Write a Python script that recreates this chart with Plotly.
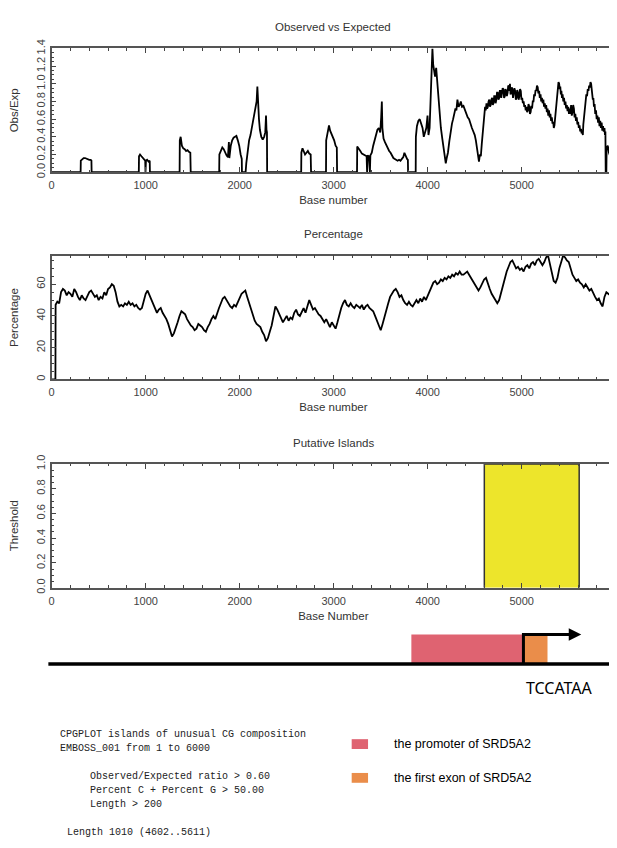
import plotly.graph_objects as go

# page is drawn with an 8px body margin, so the figure is sized to fill the rest
OFF = 8
PAGE_W, PAGE_H = 617, 848
W, H = PAGE_W - OFF, PAGE_H - OFF

# ---------------- data ----------------
seq_len = 6000
x_ticks = [0, 1000, 2000, 3000, 4000, 5000]

oe_pos = [0, 308, 310, 325, 340, 355, 370, 385, 400, 415, 423, 425,
          927, 929, 940, 955, 970, 985, 995, 998, 1003, 1015, 1030, 1043, 1045,
          1361, 1363, 1372, 1385, 1400, 1415, 1430, 1445, 1460, 1475, 1479,
          1782, 1784, 1800, 1815, 1830, 1845, 1860, 1875, 1885, 1890, 1905, 1920, 1935, 1950, 1965, 1980, 1995, 2010, 2022, 2024,
          2063, 2070, 2085, 2100, 2115, 2130, 2145, 2160, 2170, 2180, 2188, 2195, 2205, 2215, 2230, 2245, 2260, 2272, 2280, 2285, 2290, 2292,
          2654, 2656, 2668, 2680, 2695, 2710, 2725, 2740, 2755, 2759,
          2918, 2920, 2935, 2950, 2962, 2975, 2990, 3005, 3020, 3033, 3036,
          3248, 3250, 3265, 3283, 3300, 3315, 3330, 3350, 3355, 3360, 3375, 3385, 3390, 3405, 3420, 3435, 3450, 3465, 3480, 3495,
          3505, 3512, 3518, 3530, 3545, 3560, 3575, 3590, 3605, 3620, 3635, 3650, 3665, 3680, 3695, 3710, 3725, 3740, 3752, 3765, 3780, 3789, 3791,
          3872, 3874, 3885, 3900, 3915, 3930, 3945, 3958, 3970, 3985, 3998, 4008, 4020, 4032, 4042, 4050, 4058, 4068, 4078, 4090,
          4100, 4112, 4125, 4140, 4155, 4170, 4182, 4192, 4202, 4215, 4230, 4245, 4258, 4270, 4282, 4295, 4305, 4316, 4328, 4340,
          4352, 4365, 4380, 4395, 4410, 4425, 4440, 4455, 4470, 4485, 4500, 4512, 4525, 4535, 4545, 4555, 4565, 4575, 4585,
          4597, 4604, 4610, 4617, 4625, 4632, 4640, 4647, 4655, 4662, 4670, 4677, 4685, 4692, 4700, 4707, 4715, 4722, 4730, 4737,
          4745, 4752, 4760, 4767, 4775, 4782, 4790, 4797, 4805, 4812, 4820, 4827, 4835, 4842, 4850, 4856, 4862, 4868, 4875, 4881,
          4888, 4894, 4900, 4907, 4915, 4922, 4930, 4937, 4945, 4952, 4960, 4967, 4975, 4982, 4990, 4997, 5005, 5012, 5020, 5027,
          5035, 5042, 5050, 5057, 5065, 5072, 5080, 5087, 5095, 5102, 5110, 5117, 5125, 5132, 5140, 5147, 5155, 5162, 5170, 5177,
          5185, 5192, 5200, 5207, 5215, 5222, 5230, 5237, 5245, 5252, 5260, 5267, 5275, 5282, 5290, 5297, 5305, 5312, 5320, 5327,
          5335, 5341, 5348, 5354, 5360, 5366, 5372, 5378, 5385, 5391, 5398, 5404, 5410, 5416, 5422, 5428, 5435, 5442, 5450, 5457,
          5465, 5472, 5480, 5487, 5495, 5502, 5510, 5517, 5525, 5532, 5540, 5547, 5555, 5562, 5570, 5577, 5585, 5592, 5600, 5607,
          5615, 5622, 5630, 5637, 5645, 5650, 5655, 5662, 5668, 5674, 5680, 5687, 5695, 5702, 5710, 5717, 5725, 5731, 5738, 5744,
          5750, 5756, 5762, 5768, 5775, 5782, 5790, 5797, 5805, 5812, 5820, 5827, 5835, 5842, 5850, 5857, 5865, 5872, 5880, 5885,
          5890, 5893, 5900, 5903, 5915, 5928, 5940, 5947, 5949, 5992]
oe_val = [0, 0, 0.13, 0.15, 0.16, 0.16, 0.15, 0.15, 0.14, 0.14, 0.13, 0,
          0, 0.18, 0.20, 0.18, 0.16, 0.15, 0.13, 0, 0.13, 0.14, 0.12, 0.13, 0,
          0, 0.36, 0.40, 0.30, 0.27, 0.26, 0.24, 0.25, 0.23, 0.22, 0,
          0, 0.20, 0.25, 0.28, 0.26, 0.22, 0.19, 0.17, 0.34, 0.16, 0.30, 0.36, 0.39, 0.40, 0.41, 0.36, 0.30, 0.20, 0.15, 0,
          0, 0.10, 0.25, 0.36, 0.42, 0.50, 0.60, 0.65, 0.72, 0.80, 0.97, 0.75, 0.60, 0.48, 0.40, 0.37, 0.40, 0.45, 0.64, 0.48, 0.45, 0,
          0, 0.22, 0.27, 0.24, 0.20, 0.22, 0.24, 0.21, 0.20, 0,
          0, 0.36, 0.45, 0.53, 0.47, 0.44, 0.40, 0.36, 0.30, 0.28, 0,
          0, 0.29, 0.26, 0.24, 0.21, 0.20, 0.19, 0.18, 0, 0.19, 0.18, 0, 0.19, 0.22, 0.30, 0.36, 0.42, 0.48, 0.50, 0.45,
          0.62, 0.80, 0.50, 0.38, 0.34, 0.30, 0.26, 0.24, 0.22, 0.19, 0.16, 0.15, 0.14, 0.13, 0.14, 0.13, 0.15, 0.17, 0.22, 0.18, 0.15, 0.14, 0,
          0, 0.40, 0.52, 0.58, 0.60, 0.55, 0.50, 0.40, 0.44, 0.50, 0.64, 0.42, 0.50, 0.90, 1.20, 1.40, 1.22, 1.12, 1.08, 1.18,
          1.02, 0.88, 0.68, 0.50, 0.38, 0.26, 0.18, 0.10, 0.16, 0.22, 0.35, 0.48, 0.55, 0.60, 0.66, 0.72, 0.70, 0.82, 0.74, 0.76,
          0.80, 0.74, 0.75, 0.70, 0.66, 0.62, 0.60, 0.54, 0.50, 0.46, 0.42, 0.36, 0.28, 0.20, 0.12, 0.20, 0.18, 0.32, 0.45,
          0.62, 0.70, 0.74, 0.70, 0.78, 0.72, 0.74, 0.80, 0.82, 0.74, 0.76, 0.82, 0.84, 0.76, 0.78, 0.86, 0.86, 0.78, 0.82, 0.90,
          0.90, 0.82, 0.84, 0.92, 0.92, 0.84, 0.88, 0.95, 0.94, 0.84, 0.86, 0.94, 0.92, 0.86, 0.90, 0.98, 0.97, 0.92, 1.00, 0.88,
          0.90, 0.96, 0.94, 0.84, 0.88, 0.95, 0.92, 0.82, 0.84, 0.93, 0.90, 0.82, 0.86, 0.94, 0.92, 0.82, 0.84, 0.78, 0.80, 0.74,
          0.76, 0.70, 0.74, 0.68, 0.70, 0.77, 0.74, 0.66, 0.68, 0.75, 0.72, 0.80, 0.80, 0.88, 0.86, 0.93, 0.92, 0.98, 0.96, 0.89,
          0.92, 0.84, 0.88, 0.80, 0.84, 0.78, 0.82, 0.74, 0.78, 0.72, 0.76, 0.68, 0.72, 0.64, 0.70, 0.62, 0.66, 0.58, 0.62, 0.55,
          0.57, 0.50, 0.53, 0.60, 0.64, 0.74, 0.80, 0.88, 0.93, 1.02, 1.00, 0.94, 0.97, 0.88, 0.92, 0.84, 0.88, 0.80, 0.84, 0.76,
          0.80, 0.72, 0.76, 0.69, 0.74, 0.66, 0.72, 0.66, 0.76, 0.64, 0.68, 0.76, 0.72, 0.62, 0.66, 0.58, 0.62, 0.54, 0.57, 0.50,
          0.53, 0.46, 0.49, 0.44, 0.46, 0.42, 0.54, 0.60, 0.67, 0.74, 0.78, 0.88, 0.86, 0.94, 0.92, 0.98, 0.96, 1.02, 1.00, 0.90,
          0.92, 0.82, 0.84, 0.74, 0.77, 0.66, 0.70, 0.60, 0.64, 0.56, 0.62, 0.52, 0.58, 0.50, 0.56, 0.47, 0.52, 0.46, 0.50, 0.42,
          0.46, 0, 0, 0.28, 0.30, 0.22, 0.18, 0.16, 0, 0]

pct_pos = [0, 40, 42, 60, 80, 100, 120, 140, 160, 180, 200, 220, 240, 260, 280, 300, 320, 340, 360, 380,
           400, 420, 440, 460, 480, 500, 520, 540, 560, 580, 600, 620, 640, 660, 680, 700, 720, 740, 760, 780,
           800, 820, 840, 860, 880, 900, 920, 940, 960, 980, 1000, 1020, 1040, 1060, 1080, 1100, 1120, 1140, 1160, 1180,
           1200, 1220, 1240, 1260, 1280, 1300, 1320, 1340, 1360, 1380, 1400, 1420, 1440, 1460, 1480, 1500, 1520, 1540, 1560, 1580,
           1600, 1620, 1640, 1660, 1680, 1700, 1720, 1740, 1760, 1780, 1800, 1820, 1840, 1860, 1880, 1900, 1920, 1940, 1960, 1980,
           2000, 2020, 2040, 2060, 2080, 2100, 2120, 2140, 2160, 2180, 2200, 2220, 2240, 2260, 2280, 2300, 2320, 2340, 2360, 2380,
           2400, 2420, 2440, 2460, 2480, 2500, 2520, 2540, 2560, 2580, 2600, 2620, 2640, 2660, 2680, 2700, 2720, 2740, 2760, 2780,
           2800, 2820, 2840, 2860, 2880, 2900, 2920, 2940, 2960, 2980, 3000, 3020, 3040, 3060, 3080, 3100, 3120, 3140, 3160, 3180,
           3200, 3220, 3240, 3260, 3280, 3300, 3320, 3340, 3360, 3380, 3400, 3420, 3440, 3460, 3480, 3500, 3520, 3540, 3560, 3580,
           3600, 3620, 3640, 3660, 3680, 3700, 3720, 3740, 3760, 3780, 3800, 3820, 3840, 3860, 3880, 3900, 3920, 3940, 3960, 3980,
           4000, 4020, 4040, 4060, 4080, 4100, 4120, 4140, 4160, 4180, 4200, 4220, 4240, 4260, 4280, 4300, 4320, 4340, 4360, 4380,
           4400, 4420, 4440, 4460, 4480, 4500, 4520, 4540, 4560, 4580, 4600, 4620, 4640, 4660, 4680, 4700, 4720, 4740, 4760, 4780,
           4800, 4820, 4840, 4860, 4880, 4900, 4920, 4940, 4960, 4980, 5000, 5020, 5040, 5060, 5080, 5100, 5120, 5140, 5160, 5180,
           5200, 5220, 5240, 5260, 5280, 5300, 5320, 5340, 5360, 5380, 5400, 5420, 5440, 5460, 5480, 5500, 5520, 5540, 5560, 5580,
           5600, 5620, 5640, 5660, 5680, 5700, 5720, 5740, 5760, 5780, 5800, 5820, 5840, 5860, 5880, 5900, 5920, 5940, 5955, 5992]
pct_val = [0, 0, 47, 49, 48, 55, 57, 56, 53, 55, 54, 52, 57, 55, 52, 50, 53, 51, 50, 53,
           55, 56, 54, 52, 53, 50, 52, 51, 55, 53, 57, 58, 60, 59, 55, 49, 46, 47, 46, 48,
           47, 49, 47, 48, 46, 47, 45, 44, 45, 50, 54, 56, 53, 50, 47, 44, 42, 44, 45, 42,
           40, 38, 35, 30, 27, 29, 32, 36, 40, 43, 42, 41, 38, 36, 34, 33, 31, 32, 35, 34,
           33, 31, 30, 33, 35, 38, 40, 38, 42, 45, 48, 51, 52, 50, 48, 46, 45, 47, 46, 49,
           52, 54, 55, 56, 52, 48, 44, 40, 37, 35, 34, 33, 30, 28, 24, 26, 30, 34, 40, 46,
           44, 41, 39, 36, 38, 40, 37, 39, 38, 42, 44, 41, 40, 43, 45, 42, 47, 50, 47, 44,
           45, 43, 41, 40, 38, 36, 38, 35, 33, 36, 34, 32, 36, 41, 45, 48, 50, 47, 46, 48,
           46, 45, 47, 46, 45, 47, 44, 46, 47, 45, 44, 43, 40, 37, 33, 31, 35, 40, 44, 48,
           52, 54, 56, 57, 55, 52, 53, 50, 48, 47, 49, 47, 46, 48, 50, 48, 51, 49, 52, 50,
           53, 55, 58, 61, 62, 60, 61, 63, 62, 64, 63, 65, 64, 66, 65, 67, 66, 68, 66, 66,
           67, 68, 66, 64, 62, 60, 58, 56, 58, 61, 63, 64, 60, 57, 54, 52, 50, 48, 50, 55,
           60, 64, 68, 71, 74, 75, 72, 70, 71, 69, 70, 68, 71, 72, 70, 73, 74, 72, 75, 76,
           74, 72, 74, 77, 78, 73, 67, 62, 61, 64, 70, 75, 78, 77, 75, 74, 70, 66, 64, 62,
           63, 61, 60, 58, 60, 58, 56, 57, 54, 52, 50, 51, 48, 46, 52, 55, 54, 53, 0, 0]

island_start = 4602
island_end = 5611
island_threshold = 1.0

promoter = [3826, 5018]        # promoter of SRD5A2 (base positions)
exon = [5018, 5274]            # first exon of SRD5A2
tss = 5018                     # transcription start
arrow_end = 5633
gene_line = [-35, seq_len]
tss_seq = "TCCATAA"

info_lines = ["CPGPLOT islands of unusual CG composition",
              "EMBOSS_001 from 1 to 6000",
              "Observed/Expected ratio > 0.60",
              "Percent C + Percent G > 50.00",
              "Length > 200",
              "Length 1010 (4602..5611)"]
legend_labels = ["the promoter of SRD5A2", "the first exon of SRD5A2"]
legend_colors = ["#DF6371", "#EA8D4A"]

# ---------------- layout helpers (page pixel -> paper) ----------------
def px(x):
    return (x - OFF) / W

def py(y):
    return 1 - (y - OFF) / H

L = 49                      # page x of the axis origin
XMAX = 5992
scale = (PAGE_W - L) / XMAX
X4_LO = -(L - OFF) / scale

panels = [(40, 166), (251, 377), (463, 589)]
axis_font = dict(family="Liberation Sans", size=11, color="#444")
title_font = dict(family="Liberation Sans", size=11.5, color="#333")

fig = go.Figure()

fig.add_trace(go.Scatter(x=oe_pos, y=oe_val, mode="lines",
                         line=dict(color="black", width=1.8),
                         xaxis="x", yaxis="y", hoverinfo="skip"))
fig.add_trace(go.Scatter(x=pct_pos, y=pct_val, mode="lines",
                         line=dict(color="black", width=1.8),
                         xaxis="x2", yaxis="y2", hoverinfo="skip"))
fig.add_trace(go.Scatter(x=[island_start, island_start, island_end, island_end],
                         y=[0, island_threshold, island_threshold, 0],
                         mode="lines", fill="toself", fillcolor="#EDE52B",
                         line=dict(color="#333", width=1.5),
                         xaxis="x3", yaxis="y3", hoverinfo="skip"))

# gene diagram
track_base, track_top = 0.476, 0.904
fig.add_trace(go.Scatter(x=gene_line, y=[track_base, track_base], mode="lines",
                         line=dict(color="black", width=3.5),
                         xaxis="x4", yaxis="y4", hoverinfo="skip"))
fig.add_trace(go.Scatter(x=[tss, tss, arrow_end - 40], y=[track_base, track_top, track_top],
                         mode="lines", line=dict(color="black", width=3),
                         xaxis="x4", yaxis="y4", hoverinfo="skip"))

shapes = []
for (a, b), c in zip([promoter, exon], legend_colors):
    shapes.append(dict(type="rect", xref="x4", yref="y4", x0=a, x1=b,
                       y0=track_base, y1=track_top, fillcolor=c,
                       line=dict(width=0), layer="below"))
for i, c in enumerate(legend_colors):
    yc = [748.3, 782.7][i]
    shapes.append(dict(type="rect", xref="paper", yref="paper",
                       x0=px(351.5), x1=px(368), y0=py(yc + 5), y1=py(yc - 5),
                       fillcolor=c, line=dict(width=0)))

annotations = []
annotations.append(dict(x=arrow_end, y=track_top, ax=arrow_end - 120, ay=track_top,
                        xref="x4", yref="y4", axref="x4", ayref="y4", text="",
                        showarrow=True, arrowhead=2, arrowsize=1, arrowwidth=2.5,
                        arrowcolor="black"))
annotations.append(dict(x=5405, y=0.12, xref="x4", yref="y4", text=tss_seq,
                        showarrow=False, xanchor="center", yanchor="middle",
                        font=dict(family="Noto Sans", size=16, color="black")))

for t, yc in zip(["Observed vs Expected", "Percentage", "Putative Islands"], [18, 229, 442]):
    annotations.append(dict(x=px((L + PAGE_W) / 2), y=py(yc), xref="paper", yref="paper",
                            text=t, showarrow=False, xanchor="center", yanchor="middle",
                            font=title_font))

info_pos = [(55, 739), (55, 753.3), (86, 781.7), (86, 796), (86, 810), (62, 838.3)]
for t, (x0, yc) in zip(info_lines, info_pos):
    annotations.append(dict(x=px(x0), y=py(yc), xref="paper", yref="paper", text=t,
                            showarrow=False, xanchor="left", yanchor="middle",
                            font=dict(family="Liberation Mono", size=10, color="#222")))
for t, yc in zip(legend_labels, [748.3, 783.3]):
    annotations.append(dict(x=px(392), y=py(yc), xref="paper", yref="paper", text=t,
                            showarrow=False, xanchor="left", yanchor="middle",
                            font=dict(family="Liberation Sans", size=12.5, color="black")))

def xax(title, dom_y):
    return dict(domain=[px(L), 1], range=[0, XMAX], tickvals=x_ticks,
                ticks="inside", ticklen=5, tickwidth=1, tickcolor="#444",
                minor=dict(dtick=200, ticks="inside", ticklen=2.5, tickcolor="#444", tickwidth=1),
                showline=True, linecolor="#555", linewidth=1.6, mirror="ticks",
                showgrid=False, zeroline=False, tickfont=axis_font, ticklabelstandoff=2,
                title=dict(text=title, font=title_font, standoff=6),
                anchor=dom_y, fixedrange=True)

def yax(title, rng, dtick, minor, fmt, top, bot, anchor):
    return dict(domain=[py(bot), py(top)], range=rng, dtick=dtick, tick0=0,
                tickformat=fmt, tickangle=-90,
                ticks="inside", ticklen=5, tickwidth=1, tickcolor="#444",
                minor=dict(dtick=minor, ticks="inside", ticklen=2.5, tickcolor="#444", tickwidth=1),
                showline=True, linecolor="#555", linewidth=1.6, mirror="ticks",
                showgrid=False, zeroline=False, tickfont=axis_font,
                title=dict(text=title, font=title_font, standoff=14),
                anchor=anchor, fixedrange=True)

fig.update_layout(
    width=W, height=H, margin=dict(l=0, r=0, t=0, b=0),
    paper_bgcolor="white", plot_bgcolor="white", showlegend=False,
    xaxis=xax("Base number", "y"),
    yaxis=yax("Obs/Exp", [0, 1.4001], 0.2, 0.05, ".1f", *panels[0], "x"),
    xaxis2=xax("Base number", "y2"),
    yaxis2=yax("Percentage", [0, 78], 20, 5, "d", *panels[1], "x2"),
    xaxis3=xax("Base Number", "y3"),
    yaxis3=yax("Threshold", [0, 1.0001], 0.2, 0.05, ".1f", *panels[2], "x3"),
    xaxis4=dict(domain=[0, 1], range=[X4_LO, XMAX], visible=False, anchor="y4", fixedrange=True),
    yaxis4=dict(domain=[py(700), py(630)], range=[0, 1], visible=False, anchor="x4", fixedrange=True),
    shapes=shapes, annotations=annotations,
)

fig.write_html("out.html")
